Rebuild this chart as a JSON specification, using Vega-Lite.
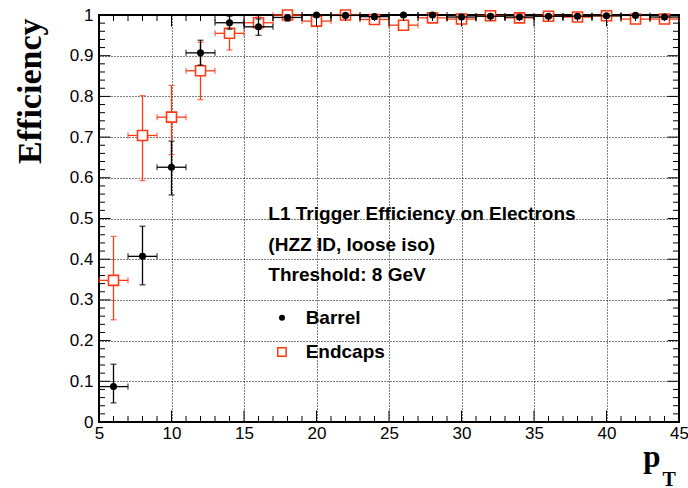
{
  "$schema": "https://vega.github.io/schema/vega-lite/v6.json",
  "width": 580,
  "height": 407,
  "autosize": "none",
  "padding": {"left": 99, "top": 15, "right": 9, "bottom": 66},
  "background": "white",
  "config": {
    "view": {"stroke": "black", "strokeWidth": 2},
    "axis": {"domain": false, "labelFont": "Liberation Sans", "labelColor": "black", "titleColor": "black", "labelFlush": false, "labelOverlap": false, "labelBound": false}
  },
  "datasets": {
    "barrel": [
      {"pt": 6, "ptlo": 5, "pthi": 7, "eff": 0.087, "lo": 0.047, "hi": 0.142},
      {"pt": 8, "ptlo": 7, "pthi": 9, "eff": 0.407, "lo": 0.337, "hi": 0.481},
      {"pt": 10, "ptlo": 9, "pthi": 11, "eff": 0.626, "lo": 0.558, "hi": 0.69},
      {"pt": 12, "ptlo": 11, "pthi": 13, "eff": 0.907, "lo": 0.877, "hi": 0.938},
      {"pt": 14, "ptlo": 13, "pthi": 15, "eff": 0.981, "lo": 0.965, "hi": 0.997},
      {"pt": 16, "ptlo": 15, "pthi": 17, "eff": 0.971, "lo": 0.95, "hi": 0.99},
      {"pt": 18, "ptlo": 17, "pthi": 19, "eff": 0.994, "lo": 0.985, "hi": 1.0},
      {"pt": 20, "ptlo": 19, "pthi": 21, "eff": 1.0, "lo": 0.995, "hi": 1.0},
      {"pt": 22, "ptlo": 21, "pthi": 23, "eff": 0.999, "lo": 0.994, "hi": 1.0},
      {"pt": 24, "ptlo": 23, "pthi": 25, "eff": 0.996, "lo": 0.99, "hi": 1.0},
      {"pt": 26, "ptlo": 25, "pthi": 27, "eff": 1.0, "lo": 0.996, "hi": 1.0},
      {"pt": 28, "ptlo": 27, "pthi": 29, "eff": 1.0, "lo": 0.996, "hi": 1.0},
      {"pt": 30, "ptlo": 29, "pthi": 31, "eff": 0.995, "lo": 0.99, "hi": 1.0},
      {"pt": 32, "ptlo": 31, "pthi": 33, "eff": 0.997, "lo": 0.993, "hi": 1.0},
      {"pt": 34, "ptlo": 33, "pthi": 35, "eff": 0.995, "lo": 0.99, "hi": 1.0},
      {"pt": 36, "ptlo": 35, "pthi": 37, "eff": 0.997, "lo": 0.993, "hi": 1.0},
      {"pt": 38, "ptlo": 37, "pthi": 39, "eff": 0.997, "lo": 0.993, "hi": 1.0},
      {"pt": 40, "ptlo": 39, "pthi": 41, "eff": 0.998, "lo": 0.995, "hi": 1.0},
      {"pt": 42, "ptlo": 41, "pthi": 43, "eff": 0.999, "lo": 0.995, "hi": 1.0},
      {"pt": 44, "ptlo": 43, "pthi": 45, "eff": 0.995, "lo": 0.99, "hi": 1.0}
    ],
    "endcaps": [
      {"pt": 6, "ptlo": 5, "pthi": 7, "eff": 0.348, "lo": 0.251, "hi": 0.456},
      {"pt": 8, "ptlo": 7, "pthi": 9, "eff": 0.704, "lo": 0.593, "hi": 0.802},
      {"pt": 10, "ptlo": 9, "pthi": 11, "eff": 0.749, "lo": 0.657, "hi": 0.827},
      {"pt": 12, "ptlo": 11, "pthi": 13, "eff": 0.863, "lo": 0.792, "hi": 0.933},
      {"pt": 14, "ptlo": 13, "pthi": 15, "eff": 0.955, "lo": 0.914, "hi": 0.985},
      {"pt": 16, "ptlo": 15, "pthi": 17, "eff": 0.981, "lo": 0.965, "hi": 0.995},
      {"pt": 18, "ptlo": 17, "pthi": 19, "eff": 1.0, "lo": 0.995, "hi": 1.0},
      {"pt": 20, "ptlo": 19, "pthi": 21, "eff": 0.985, "lo": 0.975, "hi": 0.993},
      {"pt": 22, "ptlo": 21, "pthi": 23, "eff": 1.0, "lo": 0.996, "hi": 1.0},
      {"pt": 24, "ptlo": 23, "pthi": 25, "eff": 0.989, "lo": 0.982, "hi": 0.995},
      {"pt": 26, "ptlo": 25, "pthi": 27, "eff": 0.975, "lo": 0.965, "hi": 0.984},
      {"pt": 28, "ptlo": 27, "pthi": 29, "eff": 0.993, "lo": 0.987, "hi": 0.998},
      {"pt": 30, "ptlo": 29, "pthi": 31, "eff": 0.99, "lo": 0.984, "hi": 0.995},
      {"pt": 32, "ptlo": 31, "pthi": 33, "eff": 0.998, "lo": 0.994, "hi": 1.0},
      {"pt": 34, "ptlo": 33, "pthi": 35, "eff": 0.993, "lo": 0.988, "hi": 0.997},
      {"pt": 36, "ptlo": 35, "pthi": 37, "eff": 0.997, "lo": 0.993, "hi": 1.0},
      {"pt": 38, "ptlo": 37, "pthi": 39, "eff": 0.995, "lo": 0.99, "hi": 0.999},
      {"pt": 40, "ptlo": 39, "pthi": 41, "eff": 0.998, "lo": 0.995, "hi": 1.0},
      {"pt": 42, "ptlo": 41, "pthi": 43, "eff": 0.99, "lo": 0.985, "hi": 0.995},
      {"pt": 44, "ptlo": 43, "pthi": 45, "eff": 0.99, "lo": 0.985, "hi": 0.995}
    ],
    "notes": [
      {"px": 16.68, "py": 0.497, "label": "L1 Trigger Efficiency on Electrons"},
      {"px": 16.68, "py": 0.421, "label": "(HZZ ID, loose iso)"},
      {"px": 16.68, "py": 0.347, "label": "Threshold: 8 GeV"},
      {"px": 19.25, "py": 0.242, "label": "Barrel"},
      {"px": 19.25, "py": 0.158, "label": "Endcaps"}
    ],
    "legendBarrel": [{"px": 17.62, "py": 0.256}],
    "legendEndcaps": [{"px": 17.62, "py": 0.172}],
    "xticks": [
      {"v": 5, "kind": "major"}, {"v": 6, "kind": "minor"}, {"v": 7, "kind": "minor"}, {"v": 8, "kind": "minor"}, {"v": 9, "kind": "minor"},
      {"v": 10, "kind": "major"}, {"v": 11, "kind": "minor"}, {"v": 12, "kind": "minor"}, {"v": 13, "kind": "minor"}, {"v": 14, "kind": "minor"},
      {"v": 15, "kind": "major"}, {"v": 16, "kind": "minor"}, {"v": 17, "kind": "minor"}, {"v": 18, "kind": "minor"}, {"v": 19, "kind": "minor"},
      {"v": 20, "kind": "major"}, {"v": 21, "kind": "minor"}, {"v": 22, "kind": "minor"}, {"v": 23, "kind": "minor"}, {"v": 24, "kind": "minor"},
      {"v": 25, "kind": "major"}, {"v": 26, "kind": "minor"}, {"v": 27, "kind": "minor"}, {"v": 28, "kind": "minor"}, {"v": 29, "kind": "minor"},
      {"v": 30, "kind": "major"}, {"v": 31, "kind": "minor"}, {"v": 32, "kind": "minor"}, {"v": 33, "kind": "minor"}, {"v": 34, "kind": "minor"},
      {"v": 35, "kind": "major"}, {"v": 36, "kind": "minor"}, {"v": 37, "kind": "minor"}, {"v": 38, "kind": "minor"}, {"v": 39, "kind": "minor"},
      {"v": 40, "kind": "major"}, {"v": 41, "kind": "minor"}, {"v": 42, "kind": "minor"}, {"v": 43, "kind": "minor"}, {"v": 44, "kind": "minor"},
      {"v": 45, "kind": "major"}
    ],
    "yticks": [
      {"v": 0, "kind": "major"}, {"v": 0.02, "kind": "minor"}, {"v": 0.04, "kind": "minor"}, {"v": 0.06, "kind": "minor"}, {"v": 0.08, "kind": "minor"},
      {"v": 0.1, "kind": "major"}, {"v": 0.12, "kind": "minor"}, {"v": 0.14, "kind": "minor"}, {"v": 0.16, "kind": "minor"}, {"v": 0.18, "kind": "minor"},
      {"v": 0.2, "kind": "major"}, {"v": 0.22, "kind": "minor"}, {"v": 0.24, "kind": "minor"}, {"v": 0.26, "kind": "minor"}, {"v": 0.28, "kind": "minor"},
      {"v": 0.3, "kind": "major"}, {"v": 0.32, "kind": "minor"}, {"v": 0.34, "kind": "minor"}, {"v": 0.36, "kind": "minor"}, {"v": 0.38, "kind": "minor"},
      {"v": 0.4, "kind": "major"}, {"v": 0.42, "kind": "minor"}, {"v": 0.44, "kind": "minor"}, {"v": 0.46, "kind": "minor"}, {"v": 0.48, "kind": "minor"},
      {"v": 0.5, "kind": "major"}, {"v": 0.52, "kind": "minor"}, {"v": 0.54, "kind": "minor"}, {"v": 0.56, "kind": "minor"}, {"v": 0.58, "kind": "minor"},
      {"v": 0.6, "kind": "major"}, {"v": 0.62, "kind": "minor"}, {"v": 0.64, "kind": "minor"}, {"v": 0.66, "kind": "minor"}, {"v": 0.68, "kind": "minor"},
      {"v": 0.7, "kind": "major"}, {"v": 0.72, "kind": "minor"}, {"v": 0.74, "kind": "minor"}, {"v": 0.76, "kind": "minor"}, {"v": 0.78, "kind": "minor"},
      {"v": 0.8, "kind": "major"}, {"v": 0.82, "kind": "minor"}, {"v": 0.84, "kind": "minor"}, {"v": 0.86, "kind": "minor"}, {"v": 0.88, "kind": "minor"},
      {"v": 0.9, "kind": "major"}, {"v": 0.92, "kind": "minor"}, {"v": 0.94, "kind": "minor"}, {"v": 0.96, "kind": "minor"}, {"v": 0.98, "kind": "minor"},
      {"v": 1, "kind": "major"}
    ]
  },
  "resolve": {"axis": {"x": "independent", "y": "independent"}},
  "layer": [
    {
      "data": {"name": "endcaps"},
      "mark": {"type": "errorbar", "ticks": {"size": 6, "thickness": 1.3}, "thickness": 1.3, "color": "#ff3a14"},
      "encoding": {
        "x": {"field": "ptlo", "type": "quantitative", "scale": {"domain": [5, 45], "nice": false, "zero": false}, "axis": null},
        "x2": {"field": "pthi"},
        "y": {"field": "eff", "type": "quantitative", "scale": {"domain": [0, 1], "nice": false, "zero": false}, "axis": null}
      }
    },
    {
      "data": {"name": "endcaps"},
      "mark": {"type": "errorbar", "ticks": {"size": 6, "thickness": 1.3}, "thickness": 1.3, "color": "#ff3a14"},
      "encoding": {
        "x": {"field": "pt", "type": "quantitative", "axis": null},
        "y": {"field": "lo", "type": "quantitative", "axis": null},
        "y2": {"field": "hi"}
      }
    },
    {
      "data": {"name": "endcaps"},
      "mark": {"type": "point", "shape": "square", "size": 100, "filled": false, "fill": "white", "fillOpacity": 1, "stroke": "#ff3a14", "strokeWidth": 1.6, "opacity": 1},
      "encoding": {
        "x": {"field": "pt", "type": "quantitative", "axis": {"orient": "bottom", "values": [5, 10, 15, 20, 25, 30, 35, 40, 45], "ticks": false, "grid": true, "gridColor": "black", "gridDash": [1, 2], "gridWidth": 1, "gridOpacity": 1, "labelFontSize": 17, "labelPadding": 3, "title": "p", "titleFont": "Liberation Serif", "titleFontWeight": "bold", "titleFontSize": 31, "titleAlign": "right", "titleAnchor": "end", "titleBaseline": "alphabetic", "titleX": 561, "titleY": 44}},
        "y": {"field": "eff", "type": "quantitative", "axis": {"orient": "left", "values": [0, 0.1, 0.2, 0.3, 0.4, 0.5, 0.6, 0.7, 0.8, 0.9, 1], "format": "~g", "ticks": false, "grid": true, "gridColor": "black", "gridDash": [1, 2], "gridWidth": 1, "gridOpacity": 1, "labelFontSize": 17, "labelPadding": 6, "title": "Efficiency", "titleFont": "Liberation Serif", "titleFontWeight": "bold", "titleFontSize": 34, "titleAngle": -90, "titleAlign": "right", "titleAnchor": "end", "titleBaseline": "middle", "titleX": -69, "titleY": 3}}
      }
    },
    {
      "data": {"name": "barrel"},
      "mark": {"type": "errorbar", "ticks": {"size": 6, "thickness": 1.3}, "thickness": 1.3, "color": "black"},
      "encoding": {
        "x": {"field": "ptlo", "type": "quantitative", "axis": null},
        "x2": {"field": "pthi"},
        "y": {"field": "eff", "type": "quantitative", "axis": null}
      }
    },
    {
      "data": {"name": "barrel"},
      "mark": {"type": "errorbar", "ticks": {"size": 6, "thickness": 1.3}, "thickness": 1.3, "color": "black"},
      "encoding": {
        "x": {"field": "pt", "type": "quantitative", "axis": null},
        "y": {"field": "lo", "type": "quantitative", "axis": null},
        "y2": {"field": "hi"}
      }
    },
    {
      "data": {"name": "barrel"},
      "mark": {"type": "point", "shape": "circle", "size": 50, "filled": true, "color": "black", "opacity": 1},
      "encoding": {
        "x": {"field": "pt", "type": "quantitative", "axis": null},
        "y": {"field": "eff", "type": "quantitative", "axis": null}
      }
    },
    {
      "data": {"name": "notes"},
      "mark": {"type": "text", "align": "left", "baseline": "alphabetic", "font": "Liberation Sans", "fontWeight": "bold", "fontSize": 19, "color": "black"},
      "encoding": {
        "x": {"field": "px", "type": "quantitative", "axis": {"orient": "bottom", "values": [5], "labels": false, "grid": false, "ticks": false, "title": "T", "titleFont": "Liberation Serif", "titleFontWeight": "bold", "titleFontSize": 20, "titleAlign": "left", "titleAnchor": "start", "titleBaseline": "alphabetic", "titleX": 563, "titleY": 63}},
        "y": {"field": "py", "type": "quantitative", "axis": null},
        "text": {"field": "label"}
      }
    },
    {
      "data": {"name": "legendBarrel"},
      "mark": {"type": "point", "shape": "circle", "size": 36, "filled": true, "color": "black", "opacity": 1},
      "encoding": {
        "x": {"field": "px", "type": "quantitative", "axis": null},
        "y": {"field": "py", "type": "quantitative", "axis": null}
      }
    },
    {
      "data": {"name": "legendEndcaps"},
      "mark": {"type": "point", "shape": "square", "size": 70, "filled": false, "stroke": "#ff3a14", "strokeWidth": 1.5, "opacity": 1},
      "encoding": {
        "x": {"field": "px", "type": "quantitative", "axis": null},
        "y": {"field": "py", "type": "quantitative", "axis": null}
      }
    },
    {
      "data": {"name": "xticks"},
      "mark": {"type": "tick", "orient": "vertical", "clip": true, "color": "black", "thickness": 1, "opacity": 1},
      "encoding": {
        "x": {"field": "v", "type": "quantitative", "axis": null},
        "y": {"datum": 0, "type": "quantitative", "axis": null},
        "size": {"field": "kind", "type": "ordinal", "scale": {"domain": ["major", "minor"], "range": [23, 12]}, "legend": null}
      }
    },
    {
      "data": {"name": "xticks"},
      "mark": {"type": "tick", "orient": "vertical", "clip": true, "color": "black", "thickness": 1, "opacity": 1},
      "encoding": {
        "x": {"field": "v", "type": "quantitative", "axis": null},
        "y": {"datum": 1, "type": "quantitative", "axis": null},
        "size": {"field": "kind", "type": "ordinal", "legend": null}
      }
    },
    {
      "data": {"name": "yticks"},
      "mark": {"type": "tick", "orient": "horizontal", "clip": true, "color": "black", "thickness": 1, "opacity": 1},
      "encoding": {
        "x": {"datum": 5, "type": "quantitative", "axis": null},
        "y": {"field": "v", "type": "quantitative", "axis": null},
        "size": {"field": "kind", "type": "ordinal", "legend": null}
      }
    },
    {
      "data": {"name": "yticks"},
      "mark": {"type": "tick", "orient": "horizontal", "clip": true, "color": "black", "thickness": 1, "opacity": 1},
      "encoding": {
        "x": {"datum": 45, "type": "quantitative", "axis": null},
        "y": {"field": "v", "type": "quantitative", "axis": null},
        "size": {"field": "kind", "type": "ordinal", "legend": null}
      }
    }
  ]
}
